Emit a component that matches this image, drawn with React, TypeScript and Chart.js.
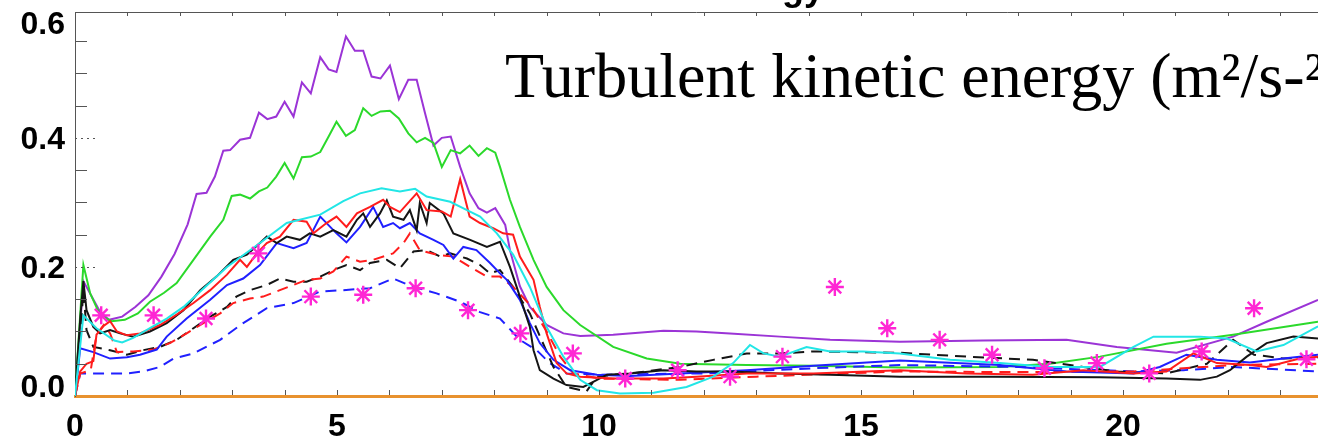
import React, { useEffect, useRef } from "react";
import { Chart, registerables } from "chart.js";

Chart.register(...registerables);

// ---------- data ----------
const X_MIN = 0;
const X_MAX = 23.72;
const Y_MIN = 0;
const Y_MAX = 0.595;

const X_LABELS = [0, 5, 10, 15, 20];
const X_MINOR = [1, 2, 3, 4, 5, 6, 7, 8, 9, 10, 11, 12, 13, 14, 15, 16, 17, 18, 19, 20, 21, 22, 23];
const Y_LABELS = [0, 0.2, 0.4, 0.6];
const Y_MINOR = [0.05, 0.1, 0.15, 0.25, 0.3, 0.35, 0.45, 0.5, 0.55];
const Y_MAJOR_DOTTED = [0.2, 0.4];

const ANNOTATION = "Turbulent kinetic energy (m²/s-²)";
const TOP_TITLE = "Turbulent Kinetic Energy";

const PURPLE_X = [0, 0.16, 0.48, 0.65, 0.9, 1.15, 1.4, 1.65, 1.9, 2.15, 2.32, 2.51, 2.67, 2.83, 2.96, 3.15, 3.34, 3.51, 3.67, 3.84, 4.0, 4.17, 4.33, 4.5, 4.68, 4.84, 4.99, 5.17, 5.34, 5.5, 5.66, 5.83, 6.01, 6.18, 6.36, 6.52, 6.68, 6.84, 7.0, 7.17, 7.35, 7.53, 7.7, 7.86, 8.02, 8.21, 8.3, 8.49, 8.68, 9.0, 9.32, 9.64, 10.27, 11.23, 11.86, 12.5, 13.45, 14.41, 15.74, 17.33, 18.92, 19.88, 21.02, 22.1, 22.74, 23.72];
const PURPLE_Y = [0, 0.178, 0.13, 0.118, 0.123, 0.138, 0.156, 0.185, 0.22, 0.266, 0.313, 0.315, 0.34, 0.38, 0.381, 0.397, 0.4, 0.439, 0.429, 0.433, 0.456, 0.433, 0.486, 0.469, 0.525, 0.506, 0.502, 0.557, 0.535, 0.535, 0.495, 0.492, 0.512, 0.46, 0.49, 0.49, 0.438, 0.388, 0.4, 0.402, 0.355, 0.314, 0.291, 0.284, 0.291, 0.265, 0.226, 0.17, 0.138, 0.11, 0.097, 0.093, 0.095, 0.101, 0.1, 0.097, 0.092, 0.087, 0.084, 0.086, 0.087, 0.076, 0.067, 0.092, 0.115, 0.149];

const GREEN_X = [0, 0.16, 0.29, 0.48, 0.7, 0.95, 1.2, 1.43, 1.7, 1.94, 2.26, 2.58, 2.83, 2.99, 3.15, 3.34, 3.51, 3.67, 3.84, 4.0, 4.17, 4.33, 4.5, 4.68, 4.84, 4.99, 5.17, 5.34, 5.5, 5.66, 5.83, 6.01, 6.18, 6.36, 6.52, 6.68, 6.84, 7.0, 7.17, 7.35, 7.53, 7.7, 7.86, 8.02, 8.11, 8.3, 8.49, 8.75, 9.0, 9.32, 9.64, 10.27, 10.91, 11.55, 12.82, 14.09, 15.74, 17.65, 18.6, 19.56, 20.83, 22.1, 23.72];
const GREEN_Y = [0, 0.203, 0.159, 0.125, 0.116, 0.118, 0.128, 0.146, 0.16, 0.175, 0.211, 0.247, 0.273, 0.31, 0.312, 0.306, 0.317, 0.323, 0.34, 0.361, 0.337, 0.37, 0.371, 0.378, 0.402, 0.425, 0.403, 0.412, 0.446, 0.434, 0.441, 0.442, 0.43, 0.407, 0.393, 0.4, 0.392, 0.355, 0.381, 0.376, 0.388, 0.372, 0.384, 0.377, 0.355, 0.304, 0.262, 0.211, 0.169, 0.133, 0.11, 0.076, 0.058, 0.05, 0.048, 0.047, 0.044, 0.045, 0.05, 0.061, 0.081, 0.095, 0.115];

const CYAN_X = [0, 0.16, 0.41, 0.75, 0.9, 1.11, 1.43, 1.75, 2.07, 2.39, 2.9, 3.53, 4.04, 4.68, 5.12, 5.44, 5.85, 6.2, 6.49, 6.71, 7.16, 7.48, 7.73, 8.05, 8.36, 8.68, 9.0, 9.32, 9.64, 9.96, 10.4, 11.04, 11.67, 12.18, 12.56, 12.88, 13.14, 13.45, 13.96, 14.41, 15.04, 15.74, 16.7, 17.65, 18.6, 19.56, 20.2, 20.58, 21.47, 21.98, 22.55, 23.06, 23.72];
const CYAN_Y = [0, 0.125, 0.105, 0.086, 0.083, 0.09, 0.105, 0.12, 0.138, 0.162, 0.2, 0.237, 0.268, 0.281, 0.302, 0.314, 0.322, 0.317, 0.321, 0.309, 0.301, 0.288, 0.278, 0.252, 0.219, 0.169, 0.107, 0.061, 0.025, 0.009, 0.004, 0.005, 0.014, 0.03, 0.051, 0.079, 0.066, 0.061, 0.076, 0.069, 0.069, 0.066, 0.056, 0.051, 0.045, 0.045, 0.076, 0.092, 0.092, 0.089, 0.069, 0.079, 0.108];

const RED_X = [0, 0.1, 0.22, 0.35, 0.41, 0.54, 0.67, 0.8, 0.99, 1.24, 1.62, 1.94, 2.26, 2.58, 2.9, 3.15, 3.28, 3.47, 3.66, 3.91, 4.17, 4.42, 4.55, 4.8, 4.99, 5.18, 5.38, 5.63, 5.88, 6.01, 6.2, 6.52, 6.71, 7.0, 7.17, 7.35, 7.53, 7.73, 7.98, 8.17, 8.36, 8.49, 8.75, 8.87, 9.0, 9.19, 9.38, 9.64, 10.27, 11.23, 11.86, 12.82, 14.09, 15.74, 17.01, 18.28, 19.24, 20.2, 20.83, 21.34, 21.79, 22.42, 22.74, 23.37, 23.72];
const RED_Y = [0, 0.038, 0.05, 0.054, 0.095, 0.108, 0.116, 0.1, 0.094, 0.097, 0.11, 0.126, 0.144, 0.164, 0.188, 0.211, 0.2, 0.221, 0.237, 0.247, 0.273, 0.27, 0.252, 0.268, 0.278, 0.262, 0.283, 0.293, 0.304, 0.293, 0.285, 0.314, 0.288, 0.286, 0.278, 0.336, 0.278, 0.268, 0.26, 0.252, 0.25, 0.216, 0.18, 0.138, 0.097, 0.051, 0.035, 0.03, 0.027, 0.027, 0.03, 0.035, 0.035, 0.04, 0.035, 0.033, 0.04, 0.035, 0.038, 0.066, 0.051, 0.048, 0.045, 0.058, 0.061];

const BLACK_X = [0, 0.1, 0.16, 0.22, 0.35, 0.48, 0.67, 0.86, 1.11, 1.43, 1.75, 2.07, 2.39, 2.7, 3.02, 3.28, 3.53, 3.66, 3.85, 4.04, 4.29, 4.48, 4.68, 4.93, 5.18, 5.38, 5.5, 5.63, 5.82, 5.95, 6.07, 6.27, 6.39, 6.52, 6.58, 6.71, 6.77, 7.03, 7.22, 7.54, 7.86, 8.11, 8.3, 8.49, 8.68, 8.75, 8.87, 9.13, 9.38, 9.7, 9.89, 10.15, 10.59, 11.23, 11.86, 12.5, 13.45, 14.41, 15.74, 17.5, 19.56, 20.83, 21.47, 21.79, 22.04, 22.36, 22.74, 23.25, 23.72];
const BLACK_Y = [0, 0.12, 0.178, 0.133, 0.107, 0.097, 0.102, 0.097, 0.092, 0.1, 0.113, 0.133, 0.164, 0.185, 0.211, 0.219, 0.237, 0.247, 0.237, 0.247, 0.242, 0.252, 0.247, 0.257, 0.247, 0.273, 0.283, 0.262, 0.283, 0.303, 0.278, 0.273, 0.288, 0.257, 0.299, 0.268, 0.299, 0.283, 0.252, 0.242, 0.231, 0.239, 0.2, 0.154, 0.107, 0.071, 0.04, 0.027, 0.017, 0.014, 0.022, 0.033, 0.035, 0.04, 0.038, 0.038, 0.035, 0.033, 0.03, 0.03, 0.029, 0.027, 0.025, 0.03, 0.04, 0.061, 0.082, 0.092, 0.089];

const BLUE_X = [0, 0.1, 0.35, 0.67, 0.99, 1.24, 1.56, 1.75, 2.13, 2.58, 2.9, 3.21, 3.53, 3.85, 4.17, 4.42, 4.68, 4.99, 5.18, 5.44, 5.69, 5.88, 6.07, 6.2, 6.39, 6.58, 6.84, 7.03, 7.22, 7.41, 7.66, 7.92, 8.11, 8.24, 8.49, 8.68, 8.87, 9.13, 9.45, 9.96, 10.59, 11.55, 12.82, 14.09, 15.74, 17.65, 18.92, 20.2, 20.7, 21.21, 21.79, 22.42, 23.06, 23.72];
const BLUE_Y = [0, 0.074, 0.068, 0.058, 0.06, 0.064, 0.072, 0.092, 0.12, 0.149, 0.172, 0.182, 0.203, 0.237, 0.229, 0.237, 0.278, 0.252, 0.238, 0.262, 0.293, 0.262, 0.268, 0.26, 0.268, 0.252, 0.242, 0.234, 0.213, 0.231, 0.226, 0.206, 0.19, 0.18, 0.149, 0.113, 0.082, 0.056, 0.04, 0.033, 0.031, 0.035, 0.04, 0.047, 0.055, 0.048, 0.038, 0.035, 0.045, 0.064, 0.056, 0.052, 0.058, 0.064];

const RED_DASH_X = [0, 0.1, 0.3, 0.41, 0.55, 0.67, 0.8, 1.11, 1.5, 1.81, 2.13, 2.45, 2.77, 3.02, 3.34, 3.59, 3.91, 4.17, 4.42, 4.68, 4.93, 5.18, 5.44, 5.69, 6.07, 6.27, 6.39, 6.58, 6.9, 7.22, 7.54, 7.86, 8.11, 8.36, 8.7, 9.0, 9.26, 9.51, 10.0, 11.55, 13.0, 15.74, 18.0, 20.2, 21.15, 22.1, 23.72];
const RED_DASH_Y = [0, 0.035, 0.04, 0.095, 0.11, 0.097, 0.068, 0.069, 0.072, 0.082, 0.097, 0.113, 0.128, 0.144, 0.151, 0.154, 0.164, 0.172, 0.18, 0.182, 0.193, 0.216, 0.208, 0.211, 0.221, 0.237, 0.252, 0.226, 0.219, 0.216, 0.2, 0.185, 0.185, 0.169, 0.14, 0.1, 0.061, 0.035, 0.027, 0.025, 0.03, 0.038, 0.037, 0.038, 0.043, 0.048, 0.05];

const BLACK_DASH_X = [0, 0.1, 0.16, 0.22, 0.35, 0.67, 0.99, 1.3, 1.62, 1.94, 2.26, 2.58, 2.9, 3.08, 3.34, 3.66, 3.91, 4.17, 4.42, 4.68, 4.93, 5.18, 5.44, 5.63, 5.95, 6.2, 6.46, 6.71, 6.97, 7.16, 7.48, 7.73, 7.92, 8.11, 8.36, 8.68, 9.13, 9.38, 9.76, 9.96, 10.59, 11.55, 12.18, 12.82, 13.45, 14.09, 15.74, 17.01, 18.28, 19.24, 19.88, 20.83, 21.6, 22.1, 22.5, 23.06, 23.72];
const BLACK_DASH_Y = [0, 0.09, 0.164, 0.102, 0.076, 0.071, 0.064, 0.071, 0.076, 0.087, 0.105, 0.123, 0.138, 0.154, 0.164, 0.172, 0.182, 0.177, 0.177, 0.185, 0.195, 0.203, 0.195, 0.206, 0.211, 0.198, 0.224, 0.226, 0.216, 0.221, 0.213, 0.203, 0.19, 0.195, 0.169, 0.128, 0.045, 0.014, 0.007, 0.03, 0.035, 0.045, 0.056, 0.066, 0.066, 0.069, 0.067, 0.061, 0.056, 0.045, 0.038, 0.035, 0.05, 0.087, 0.064, 0.058, 0.06];

const BLUE_DASH_X = [0, 0.1, 0.5, 1.0, 1.3, 1.62, 1.88, 2.26, 2.77, 3.21, 3.66, 4.17, 4.68, 5.12, 5.63, 6.07, 6.46, 6.9, 7.35, 7.73, 8.11, 8.49, 8.81, 9.06, 9.38, 10.0, 12.0, 14.09, 15.74, 18.0, 20.2, 21.15, 22.1, 23.72];
const BLUE_DASH_Y = [0, 0.035, 0.035, 0.035, 0.038, 0.045, 0.058, 0.066, 0.087, 0.113, 0.136, 0.144, 0.162, 0.164, 0.167, 0.182, 0.169, 0.159, 0.146, 0.13, 0.12, 0.087, 0.071, 0.051, 0.035, 0.033, 0.035, 0.043, 0.048, 0.045, 0.038, 0.04, 0.045, 0.038];

const OBS_X = [0.5, 1.5, 2.5, 3.5, 4.5, 5.5, 6.5, 7.5, 8.5, 9.5, 10.5, 11.5, 12.5, 13.5, 14.5, 15.5, 16.5, 17.5, 18.5, 19.5, 20.5, 21.5, 22.5, 23.5];
const OBS_Y = [0.125, 0.125, 0.12, 0.221, 0.154, 0.157, 0.167, 0.133, 0.097, 0.066, 0.027, 0.04, 0.03, 0.061, 0.169, 0.105, 0.087, 0.064, 0.043, 0.051, 0.035, 0.069, 0.136, 0.057];

// ---------- styles ----------
const C_PURPLE = "#9b34d6";
const C_GREEN = "#2bd92b";
const C_CYAN = "#22e6e6";
const C_RED = "#ff1c1c";
const C_BLACK = "#151515";
const C_BLUE = "#2020ff";
const C_MAGENTA = "#ff26d4";
const C_ORANGE = "#e8922e";
const DASH = [11, 7];

const LINES = [
  { x: CYAN_X, y: CYAN_Y, color: C_CYAN, dash: [] as number[] },
  { x: RED_X, y: RED_Y, color: C_RED, dash: [] as number[] },
  { x: BLACK_X, y: BLACK_Y, color: C_BLACK, dash: [] as number[] },
  { x: BLUE_X, y: BLUE_Y, color: C_BLUE, dash: [] as number[] },
  { x: RED_DASH_X, y: RED_DASH_Y, color: C_RED, dash: DASH },
  { x: BLACK_DASH_X, y: BLACK_DASH_Y, color: C_BLACK, dash: DASH },
  { x: BLUE_DASH_X, y: BLUE_DASH_Y, color: C_BLUE, dash: DASH },
  { x: GREEN_X, y: GREEN_Y, color: C_GREEN, dash: [] as number[] },
  { x: PURPLE_X, y: PURPLE_Y, color: C_PURPLE, dash: [] as number[] },
];

const LABEL_FONT = 'bold 32px "Liberation Sans", Arial, sans-serif';

const decorPlugin = {
  id: "decor",
  afterDraw(chart: any) {
    const { ctx, chartArea: a, scales } = chart;
    const xs = scales.x;
    const ys = scales.y;
    ctx.save();
    // top frame line
    ctx.strokeStyle = "#555";
    ctx.lineWidth = 1;
    ctx.setLineDash([]);
    ctx.beginPath();
    ctx.moveTo(a.left, a.top + 0.5);
    ctx.lineTo(a.right, a.top + 0.5);
    ctx.stroke();
    // x minor ticks (top and bottom, inward)
    ctx.beginPath();
    for (const v of X_MINOR) {
      const px = Math.round(xs.getPixelForValue(v)) + 0.5;
      ctx.moveTo(px, a.bottom - 1);
      ctx.lineTo(px, a.bottom - 6);
      ctx.moveTo(px, a.top);
      ctx.lineTo(px, a.top + 4);
    }
    ctx.stroke();
    // y minor ticks
    ctx.beginPath();
    for (const v of Y_MINOR) {
      const py = Math.round(ys.getPixelForValue(v)) + 0.5;
      ctx.moveTo(a.left, py);
      ctx.lineTo(a.left + 12, py);
    }
    ctx.stroke();
    // dotted major ticks
    ctx.setLineDash([2, 4]);
    ctx.beginPath();
    for (const v of Y_MAJOR_DOTTED) {
      const py = Math.round(ys.getPixelForValue(v)) + 0.5;
      ctx.moveTo(a.left, py);
      ctx.lineTo(a.left + 20, py);
    }
    ctx.stroke();
    ctx.setLineDash([]);

    // tick labels
    ctx.fillStyle = "#000";
    ctx.font = LABEL_FONT;
    ctx.textAlign = "right";
    ctx.textBaseline = "alphabetic";
    for (const v of Y_LABELS) {
      let cy = ys.getPixelForValue(v);
      cy = Math.max(a.top + 11, Math.min(a.bottom - 10, cy));
      ctx.fillText(v.toFixed(1), a.left - 10, cy + 11);
    }
    ctx.textAlign = "center";
    for (const v of X_LABELS) {
      ctx.fillText(String(v), xs.getPixelForValue(v), 436);
    }

    // clipped title at the very top (only descenders visible)
    ctx.font = 'bold 36px "Liberation Sans", Arial, sans-serif';
    ctx.textAlign = "right";
    ctx.fillText(TOP_TITLE, 824, 0);

    // annotation
    ctx.font = '64px "Liberation Serif", "Times New Roman", serif';
    ctx.textAlign = "left";
    ctx.fillText(ANNOTATION, 505, 97);
    ctx.restore();
  },
};

export default function App() {
  const ref = useRef<HTMLCanvasElement | null>(null);

  useEffect(() => {
    if (!ref.current) return;
    const datasets: any[] = [
      {
        label: "obs",
        data: OBS_X.map((x, i) => ({ x, y: OBS_Y[i] })),
        showLine: false,
        pointStyle: "star",
        pointRadius: 9,
        pointBorderWidth: 2.4,
        pointBorderColor: C_MAGENTA,
        pointBackgroundColor: C_MAGENTA,
        borderColor: C_MAGENTA,
      },
      ...LINES.map((s) => ({
        data: s.x.map((x, i) => ({ x, y: s.y[i] })),
        showLine: true,
        borderColor: s.color,
        borderWidth: 2,
        borderDash: s.dash,
        pointRadius: 0,
        fill: false,
        tension: 0,
      })),
    ];

    const chart = new Chart(ref.current, {
      type: "scatter",
      data: { datasets },
      plugins: [decorPlugin],
      options: {
        animation: false,
        responsive: false,
        layout: { autoPadding: false, padding: { top: 12, left: 0, right: 0, bottom: 0 } },
        plugins: { legend: { display: false }, tooltip: { enabled: false } },
        scales: {
          x: {
            type: "linear",
            min: X_MIN,
            max: X_MAX,
            z: 1,
            grid: { display: false, drawTicks: false },
            ticks: { display: false },
            border: { display: true, color: C_ORANGE, width: 3 },
            afterFit: (s: any) => {
              s.height = 45;
            },
          },
          y: {
            type: "linear",
            min: Y_MIN,
            max: Y_MAX,
            grid: { display: false, drawTicks: false },
            ticks: { display: false },
            border: { display: true, color: "#555", width: 1 },
            afterFit: (s: any) => {
              s.width = 75;
            },
          },
        },
      } as any,
    });
    return () => chart.destroy();
  }, []);

  return (
    <div style={{ position: "fixed", left: 0, top: 0, width: 1318, height: 441, background: "#fff" }}>
      <canvas ref={ref} width={1318} height={441} style={{ width: 1318, height: 441, display: "block" }} />
    </div>
  );
}
